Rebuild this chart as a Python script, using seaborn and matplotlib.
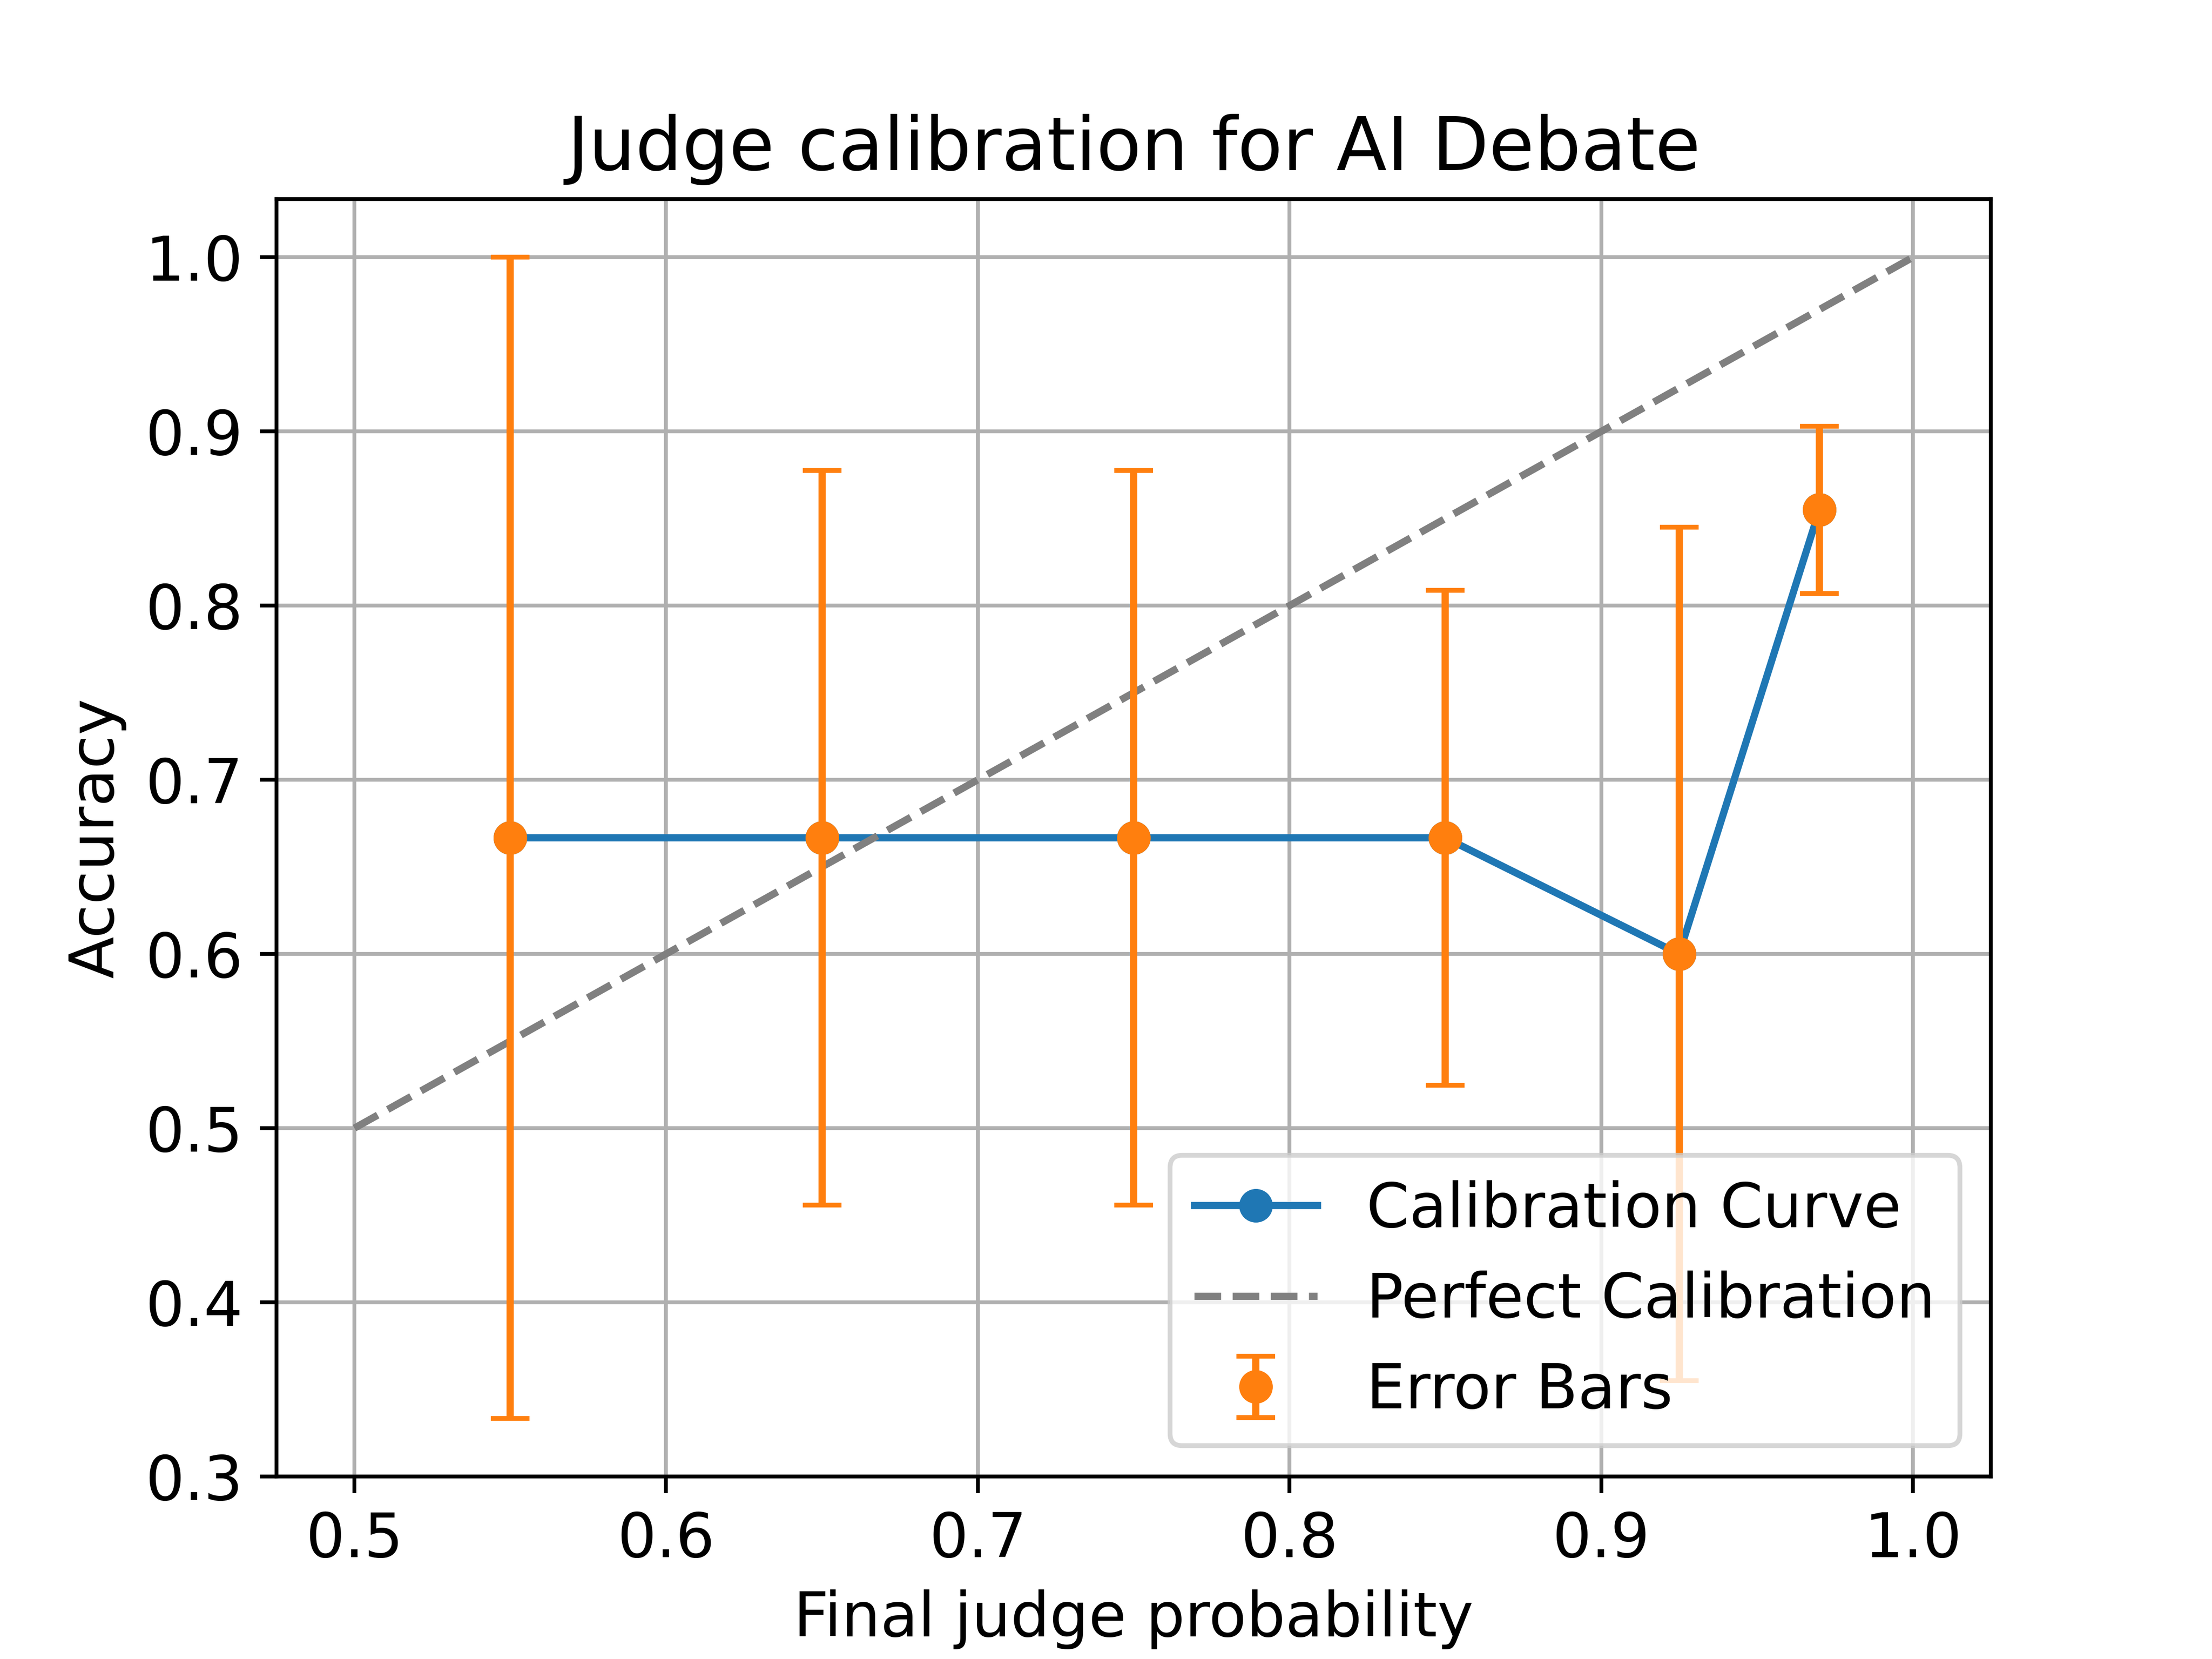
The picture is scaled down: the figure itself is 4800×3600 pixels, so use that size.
import numpy as np
import pandas as pd
import matplotlib
matplotlib.use('Agg')
import matplotlib.pyplot as plt
import seaborn as sns

plt.rcParams['font.size'] = 12.8

# bin centres of final judge probability and observed accuracy
bin_centers = [0.55, 0.65, 0.75, 0.85, 0.925, 0.97]
accuracy = [0.6667, 0.6667, 0.6667, 0.6667, 0.600, 0.855]
# half-width of the error bars
acc_err = [0.3334, 0.211, 0.211, 0.142, 0.245, 0.048]

perfect_x = [0.5, 1.0]
perfect_y = [0.5, 1.0]

df = pd.DataFrame({'prob': bin_centers, 'acc': accuracy, 'err': acc_err})

fig, ax = plt.subplots(figsize=(6.4, 4.8))
sns.lineplot(data=df, x='prob', y='acc', marker='o', color='C0',
             markeredgecolor='C0', markeredgewidth=1, markersize=6,
             linewidth=1.5, label='Calibration Curve', ax=ax)
ax.plot(perfect_x, perfect_y, linestyle='--', color='gray',
        label='Perfect Calibration')
ax.errorbar(df['prob'], df['acc'], yerr=df['err'], fmt='o', color='C1',
            capsize=4, label='Error Bars')

ax.set_xlabel('Final judge probability')
ax.set_ylabel('Accuracy')
ax.set_title('Judge calibration for AI Debate')
ax.grid(True)
ax.legend(loc='lower right')

plt.savefig('out.png', dpi=750)
